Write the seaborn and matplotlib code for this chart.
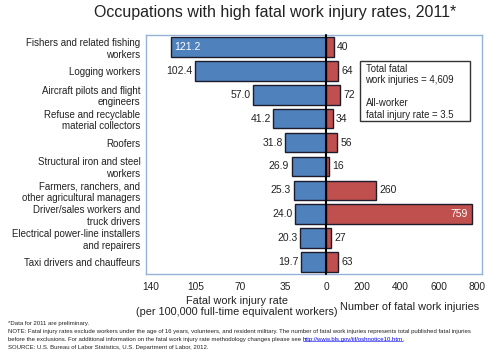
import matplotlib
matplotlib.use("Agg")
import matplotlib.pyplot as plt
import matplotlib.transforms as mtransforms
import seaborn as sns
import pandas as pd
from matplotlib.patches import Rectangle
from matplotlib.lines import Line2D

categories = [
    "Fishers and related fishing\nworkers",
    "Logging workers",
    "Aircraft pilots and flight\nengineers",
    "Refuse and recyclable\nmaterial collectors",
    "Roofers",
    "Structural iron and steel\nworkers",
    "Farmers, ranchers, and\nother agricultural managers",
    "Driver/sales workers and\ntruck drivers",
    "Electrical power-line installers\nand repairers",
    "Taxi drivers and chauffeurs",
]
rates = [121.2, 102.4, 57.0, 41.2, 31.8, 26.9, 25.3, 24.0, 20.3, 19.7]
counts = [40, 64, 72, 34, 56, 16, 260, 759, 27, 63]
rate_ticks = [140, 105, 70, 35, 0]
count_ticks = [200, 400, 600, 800]

title = "Occupations with high fatal work injury rates, 2011*"
box_text = "Total fatal\nwork injuries = 4,609\n\nAll-worker\nfatal injury rate = 3.5"
foot1 = "*Data for 2011 are preliminary."
foot2 = ("NOTE: Fatal injury rates exclude workers under the age of 16 years, volunteers, and resident military. "
         "The number of fatal work injuries represents total published fatal injuries")
foot3 = "before the exclusions. For additional information on the fatal work injury rate methodology changes please see "
foot3_link = "http://www.bls.gov/iif/oshnotice10.htm"
foot4 = "SOURCE: U.S. Bureau of Labor Statistics, U.S. Department of Labor, 2012."

sns.set_theme(style="white")
plt.rcParams["font.family"] = ["Liberation Sans", "DejaVu Sans"]

BLUE = "#4F81BD"
RED = "#C0504D"
EDGE = "#1c1c2c"
FRAME = "#95B3D7"
TXT = "#222222"

df = pd.DataFrame({"cat": categories, "rate": rates, "count": counts})

fig = plt.figure(figsize=(5.0, 3.56), dpi=100)
bottom = 1 - 274 / 356
height = (274 - 35) / 356
axL = fig.add_axes([146 / 500, bottom, (326 - 146) / 500, height])
axR = fig.add_axes([326 / 500, bottom, (482 - 326) / 500, height])

sns.barplot(data=df, x="rate", y="cat", ax=axL, color=BLUE, saturation=1,
            edgecolor=EDGE, linewidth=1.0, width=0.82, orient="h")
sns.barplot(data=df, x="count", y="cat", ax=axR, color=RED, saturation=1,
            edgecolor=EDGE, linewidth=1.0, width=0.82, orient="h")

Lmax, Rmax = 141.2, 810
axL.set_xlim(Lmax, 0)
axR.set_xlim(0, Rmax)
axR.set_ylim(axL.get_ylim())

for ax in (axL, axR):
    ax.set_xlabel("")
    ax.set_ylabel("")
    ax.tick_params(axis="both", length=0, labelsize=7.3, labelcolor=TXT)
    ax.tick_params(axis="x", pad=6)
    for s in ax.spines.values():
        s.set_color(FRAME)
        s.set_linewidth(1.0)

axL.spines["right"].set_visible(False)
axR.spines["left"].set_visible(False)
axL.set_xticks(rate_ticks)
axL.set_xticklabels([str(t) for t in rate_ticks])
axR.set_xticks(count_ticks)
axR.set_xticklabels([str(t) for t in count_ticks])
axR.set_yticks([])
axL.tick_params(axis="y", labelsize=7.0, pad=4)

# small label offsets to mirror the reference's tick label placement
offL = mtransforms.ScaledTranslation(3.5 / 100, 0, fig.dpi_scale_trans)
for lab in axL.get_xticklabels()[:-1]:
    lab.set_transform(lab.get_transform() + offL)
offR = mtransforms.ScaledTranslation(-3 / 100, 0, fig.dpi_scale_trans)
for lab in axR.get_xticklabels():
    lab.set_transform(lab.get_transform() + offR)

axR.axvline(0, color="black", lw=1.5, zorder=6, clip_on=False)

for i, v in enumerate(rates):
    if v > 0.8 * Lmax:
        axL.annotate(f"{v:.1f}", (v, i), xytext=(2, 0), textcoords="offset points",
                     ha="left", va="center", fontsize=7.5, color="white")
    else:
        axL.annotate(f"{v:.1f}", (v, i), xytext=(-2, 0), textcoords="offset points",
                     ha="right", va="center", fontsize=7.5, color=TXT)

for i, c in enumerate(counts):
    if c > 0.8 * Rmax:
        axR.annotate(f"{c}", (c, i), xytext=(-3, 0), textcoords="offset points",
                     ha="right", va="center", fontsize=7.5, color="white")
    else:
        axR.annotate(f"{c}", (c, i), xytext=(2.5, 0), textcoords="offset points",
                     ha="left", va="center", fontsize=7.5, color=TXT)

fig.text(275 / 500, 1 - 12 / 356, title, ha="center", va="center", fontsize=11.5, color=TXT)

fig.add_artist(Rectangle((360 / 500, 1 - 121 / 356), 110 / 500, 60 / 356,
                         transform=fig.transFigure, facecolor="white",
                         edgecolor="#333333", lw=1.0, zorder=7))
fig.text(365.5 / 500, 1 - 63.5 / 356, box_text, ha="left", va="top", fontsize=6.9,
         color=TXT, zorder=8)

fig.text(237 / 500, 1 - 306.5 / 356, "Fatal work injury rate\n(per 100,000 full-time equivalent workers)",
         ha="center", va="center", fontsize=7.8, color=TXT, multialignment="center")
fig.text(410 / 500, 1 - 307.5 / 356, "Number of fatal work injuries",
         ha="center", va="center", fontsize=7.8, color=TXT)

fs = 4.3
fx = 8 / 500
fig.text(fx, 1 - 323.5 / 356, foot1, ha="left", va="center", fontsize=fs, color=TXT)
fig.text(fx, 1 - 331.5 / 356, foot2, ha="left", va="center", fontsize=fs, color=TXT)
t3 = fig.text(fx, 1 - 339.5 / 356, foot3, ha="left", va="center", fontsize=fs, color=TXT)
fig.text(fx, 1 - 347 / 356, foot4, ha="left", va="center", fontsize=fs, color=TXT)

fig.canvas.draw()
r = fig.canvas.get_renderer()
bb = t3.get_window_extent(renderer=r)
x_link = bb.x1 / fig.bbox.width
tl = fig.text(x_link, 1 - 339.5 / 356, foot3_link, ha="left", va="center", fontsize=fs, color="#0000EE")
fig.canvas.draw()
bl = tl.get_window_extent(renderer=r)
yline = (bl.y0 + 0.6) / fig.bbox.height
fig.add_artist(Line2D([bl.x0 / fig.bbox.width, bl.x1 / fig.bbox.width], [yline, yline],
                      transform=fig.transFigure, color="#0000EE", lw=0.4))
fig.text(bl.x1 / fig.bbox.width, 1 - 339.5 / 356, ".", ha="left", va="center", fontsize=fs, color=TXT)

fig.savefig("out.png", dpi=100)
